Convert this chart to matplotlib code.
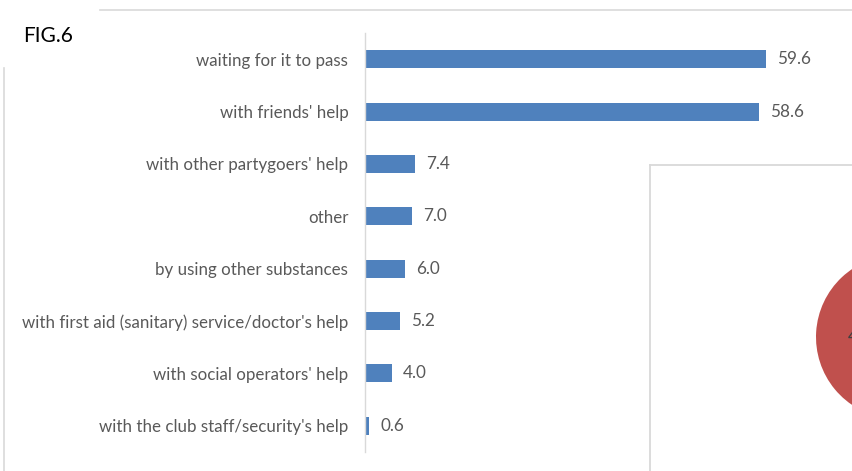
import matplotlib
matplotlib.use("Agg")
import matplotlib.pyplot as plt
from matplotlib.lines import Line2D

# coping strategies (%), top to bottom
categories = [
    "waiting for it to pass",
    "with friends' help",
    "with other partygoers' help",
    "other",
    "by using other substances",
    "with first aid (sanitary) service/doctor's help",
    "with social operators' help",
    "with the club staff/security's help",
]
values = [59.6, 58.6, 7.4, 7.0, 6.0, 5.2, 4.0, 0.6]

# neighbouring pie (only its left edge shows in this panel)
pie_values = [48.0, 52.0]
pie_labels = ["48%", ""]

BLUE = "#4f81bd"
RED = "#c0504d"
GRID = "#d9d9d9"
TEXT = "#595959"

plt.rcParams["font.family"] = ["Lato", "DejaVu Sans"]

W, H = 853, 471
fig = plt.figure(figsize=(W / 100, H / 100), dpi=100)


def fig_rect(x0, y0, x1, y1):
    # pixel box (top-left origin) -> figure fraction rect
    return [x0 / W, 1 - y1 / H, (x1 - x0) / W, (y1 - y0) / H]


# frame lines of the surrounding layout
fig.add_artist(Line2D([100 / W, 1], [1 - 9.5 / H] * 2, color=GRID, lw=1.2,
                      transform=fig.transFigure))
fig.add_artist(Line2D([4.5 / W] * 2, [0, 1 - 68 / H], color=GRID, lw=1.2,
                      transform=fig.transFigure))

fig.text(23 / W, 1 - 36 / H, "FIG.6", fontsize=15, color="black",
         va="center", ha="left")

# main bar chart
ax = fig.add_axes(fig_rect(365, 33, 853, 452))
y = range(len(categories))
ax.barh(y, values, height=0.345, color=BLUE)
ax.set_xlim(0, 488 / 6.73)
ax.set_ylim(7.5, -0.5)
ax.set_yticks(list(y))
ax.set_yticklabels(categories, fontsize=12.2, color=TEXT)
ax.tick_params(axis="y", length=0, pad=12)
ax.set_xticks([])
for s in ("top", "right", "bottom"):
    ax.spines[s].set_visible(False)
ax.spines["left"].set_color(GRID)
ax.spines["left"].set_linewidth(1.0)
for yi, v in zip(y, values):
    ax.annotate(f"{v:.1f}", (v, yi), xytext=(8, 0), textcoords="offset points",
                va="center", ha="left", fontsize=12.3, color=TEXT)

# box of the neighbouring chart
box = fig.add_axes(fig_rect(650, 165, 900, 520))
box.set_xticks([])
box.set_yticks([])
for s in ("right", "bottom"):
    box.spines[s].set_visible(False)
for s in ("left", "top"):
    box.spines[s].set_color(GRID)
    box.spines[s].set_linewidth(1.3)

pax = fig.add_axes(fig_rect(816, 255, 980, 419))
pax.pie(pie_values, colors=[RED, BLUE], startangle=90, labels=None,
        wedgeprops=dict(linewidth=0))
pax.text(-0.61, 0.0, pie_labels[0], ha="left", va="center", fontsize=12.3,
         color="#404040")
pax.set_xlim(-1, 1)
pax.set_ylim(-1, 1)
pax.set_aspect("equal")
pax.axis("off")

fig.savefig("out.png", dpi=100)
